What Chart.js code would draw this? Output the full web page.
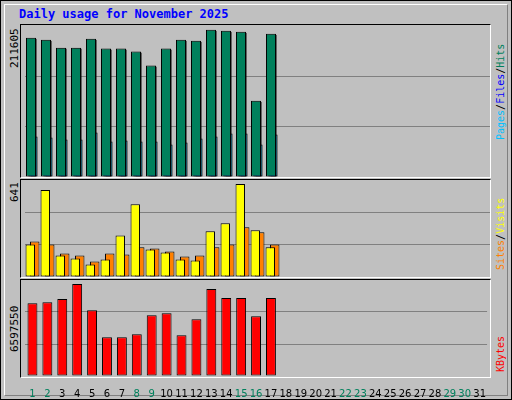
<!DOCTYPE html>
<html><head><meta charset="utf-8">
<script src="https://cdn.jsdelivr.net/npm/chart.js@4"></script>
<style>
body{margin:0;background:#c0c0c0;}
#frame{position:absolute;left:0;top:0;width:510px;height:398px;border:1px solid #000;background:#c0c0c0;}
#inner{position:absolute;left:3px;top:3px;width:502px;height:390px;border-top:1px solid #fff;border-left:1px solid #fff;border-right:1px solid #808080;border-bottom:1px solid #808080;}
.box{position:absolute;left:20px;width:469px;background:#c0c0c0;border-top:1px solid #000;border-left:1px solid #000;border-right:1px solid #fff;border-bottom:1px solid #fff;}
canvas{position:absolute;}
.t{position:absolute;font-family:"DejaVu Sans Mono",monospace;white-space:nowrap;}
.rot{transform-origin:0 0;transform:rotate(-90deg);font-size:11px;}
.rr{font-size:10px;}
</style></head><body>
<div id="frame"><div id="inner"></div></div>
<div class="t" style="left:19px;top:7px;font-size:12px;font-weight:bold;color:#0000ff;">Daily usage for November 2025</div>
<div class="box" style="top:24px;height:152px;"></div>
<div class="box" style="top:179px;height:97px;"></div>
<div class="box" style="top:279px;height:97px;"></div>
<div class="t rot" style="left:8px;top:68px;color:#000;">211605</div>
<div class="t rot" style="left:8px;top:202px;color:#000;">641</div>
<div class="t rot" style="left:8px;top:352px;color:#000;">6597550</div>
<div class="t rot rr" style="left:495px;top:140px;"><span style="color:#00c0ff">Pages</span><span style="color:#000">/</span><span style="color:#0000ff">Files</span><span style="color:#000">/</span><span style="color:#00805c">Hits</span></div>
<div class="t rot rr" style="left:495px;top:270px;"><span style="color:#ff8000">Sites</span><span style="color:#000">/</span><span style="color:#ffff00">Visits</span></div>
<div class="t rot rr" style="left:495px;top:372px;"><span style="color:#ff0000">KBytes</span></div>
<canvas id="c1" style="left:25px;top:26px;" width="465" height="151"></canvas>
<canvas id="c2" style="left:25px;top:180px;" width="465" height="97"></canvas>
<canvas id="c3" style="left:25px;top:280px;" width="465" height="118"></canvas>
<script>
const days = Array.from({length:31},(_,i)=>String(i+1));
const weekendDays = ["1","2","8","9","15","16","22","23","29","30"];
const hits   = [195300,192500,181300,181300,193900,179900,179900,175700,156100,179900,192500,191100,206500,205100,203700,107000,200900];
const files  = [193900,191100,179900,179900,192500,178500,178500,174300,154700,178500,191100,189700,205100,203700,202300,105600,199500];
const pages  = [56600,55200,52400,52400,62200,49600,51000,49600,49600,45400,48200,53800,56600,60800,60800,45400,59400];
const visits = [215,575,142,122,82,116,275,481,182,162,116,109,302,355,614,309,196];
const sites  = [235,215,156,142,102,156,149,196,189,169,136,142,196,215,329,295,215];
const kbytes = [5007000,5076000,5284000,6321000,4523000,2656000,2656000,2863000,4177000,4315000,2794000,3900000,5975000,5353000,5353000,4108000,5353000];
const maxTop = 211605, maxMid = 641, maxBot = 6597550;

function yScale(max){
  return {display:true,min:0,max:max,border:{display:false},
    ticks:{display:false,stepSize:max/3},
    grid:{color:c=>(c.index===1||c.index===2)?'#808080':'rgba(0,0,0,0)',lineWidth:1,drawTicks:false}};
}
function xScale(show){
  const s={display:show,offset:true,border:{display:false},grid:{display:false},
    ticks:{autoSkip:false,maxRotation:0,padding:4,font:{family:'DejaVu Sans',size:10},
      color:c=>weekendDays.includes(days[c.index])?'#00805c':'#000'}};
  if(show) s.afterFit=a=>{a.height=22;};
  return s;
}
const base={responsive:false,animation:false,plugins:{legend:{display:false},tooltip:{enabled:false}},layout:{padding:0}};
function ds(data,color,bp,cp){return {data:data,backgroundColor:color,borderColor:'#000',borderWidth:1,borderSkipped:false,barPercentage:bp,categoryPercentage:cp};}

new Chart(document.getElementById('c1'),{type:'bar',data:{labels:days,datasets:[
  ds(hits,'#00805c',6.7,0.3), ds(files,'#0000ff',5.6,0.3), ds(pages,'#00c0ff',4.8,0.3)]},
  options:{...base,scales:{x:xScale(false),y:yScale(maxTop)}}});

new Chart(document.getElementById('c2'),{type:'bar',data:{labels:days,datasets:[
  ds(visits,'#ffff00',2.1,0.6), ds(sites,'#ff8000',2.1,0.6)]},
  options:{...base,scales:{x:xScale(false),y:yScale(maxMid)}}});

new Chart(document.getElementById('c3'),{type:'bar',data:{labels:days,datasets:[
  ds(kbytes,'#ff0000',0.7,0.95)]},
  options:{...base,scales:{x:xScale(true),y:yScale(maxBot)}}});
</script></body></html>
